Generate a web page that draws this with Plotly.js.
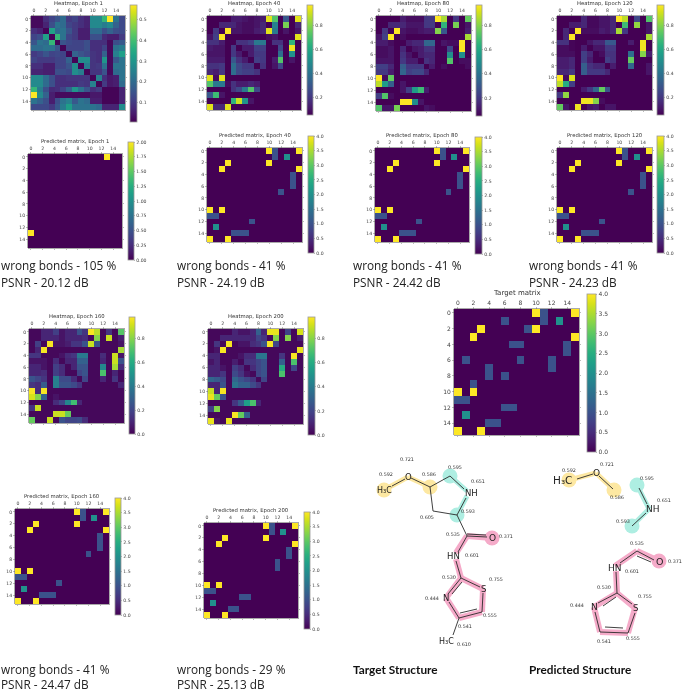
<!DOCTYPE html>
<html><head><meta charset="utf-8">
<script src="https://cdn.plot.ly/plotly-3.0.1.min.js"></script>
<style>html,body{margin:0;padding:0;background:#fff}#g{width:685px;height:692px;filter:blur(0.35px)}</style>
</head><body><div id="g"></div>
<script>
const heat1=[
[.02,.02,.08,.12,.15,.20,.10,.12,.08,.06,.27,.27,.38,.57,.22,.13],
[.02,.02,.06,.14,.22,.20,.12,.10,.08,.06,.27,.27,.24,.27,.18,.13],
[.08,.06,.01,.33,.20,.22,.15,.10,.05,.05,.20,.20,.14,.18,.14,.13],
[.12,.14,.33,.01,.38,.22,.12,.10,.05,.05,.14,.14,.07,.05,.05,.10],
[.15,.22,.20,.38,.01,.15,.13,.12,.12,.14,.08,.08,.08,.02,.14,.16],
[.20,.20,.22,.22,.15,.01,.12,.12,.12,.14,.08,.08,.12,.02,.22,.24],
[.10,.12,.15,.12,.13,.12,.01,.18,.15,.13,.09,.08,.18,.02,.25,.32],
[.12,.10,.10,.10,.12,.12,.18,.01,.28,.28,.09,.08,.30,.02,.16,.22],
[.08,.08,.05,.05,.12,.12,.15,.28,.01,.24,.09,.10,.22,.02,.22,.22],
[.06,.06,.05,.05,.14,.14,.13,.28,.24,.01,.09,.09,.15,.02,.20,.22],
[.27,.27,.20,.14,.08,.08,.09,.09,.09,.09,.01,.25,.08,.04,.05,.22],
[.27,.27,.20,.14,.08,.08,.08,.08,.10,.09,.25,.01,.10,.04,.05,.20],
[.38,.24,.14,.07,.08,.12,.18,.30,.22,.15,.08,.10,.01,.01,.01,.06],
[.57,.27,.18,.05,.02,.02,.02,.02,.02,.02,.04,.04,.01,.01,.01,.06],
[.22,.18,.14,.05,.14,.22,.25,.16,.22,.20,.05,.05,.01,.01,.01,.06],
[.13,.13,.13,.10,.16,.24,.32,.22,.22,.22,.22,.20,.06,.06,.06,.28]];
const heat40=[
[.05,.05,.05,.05,.12,.12,.10,.08,.10,.12,.93,.72,.05,.30,.05,.93],
[.05,.05,.15,.15,.15,.10,.08,.08,.10,.15,.05,.45,.05,.78,.05,.15],
[.05,.20,.05,.97,.10,.10,.08,.08,.12,.15,.93,.42,.05,.10,.05,.10],
[.10,.22,.97,.05,.05,.05,.05,.05,.05,.05,.08,.10,.05,.05,.05,.93],
[.18,.18,.12,.05,.05,.18,.18,.22,.42,.42,.05,.18,.18,.05,.65,.05],
[.12,.10,.10,.05,.20,.05,.12,.12,.22,.22,.05,.05,.25,.05,.95,.05],
[.10,.10,.10,.05,.20,.12,.05,.12,.20,.20,.05,.05,.38,.05,.52,.05],
[.12,.12,.12,.05,.30,.18,.12,.05,.22,.20,.05,.12,.72,.05,.10,.05],
[.18,.18,.20,.05,.38,.25,.20,.20,.05,.18,.05,.10,.25,.05,.05,.05],
[.15,.12,.20,.05,.38,.25,.22,.22,.18,.05,.05,.05,.05,.05,.05,.05],
[.93,.08,.93,.05,.05,.05,.05,.05,.05,.05,.05,.05,.05,.05,.05,.05],
[.72,.42,.42,.08,.18,.12,.12,.15,.12,.05,.05,.05,.05,.05,.05,.05],
[.05,.05,.05,.05,.18,.25,.42,.72,.25,.05,.05,.05,.05,.05,.05,.05],
[.30,.68,.10,.05,.05,.05,.05,.05,.05,.05,.05,.05,.05,.05,.05,.05],
[.05,.05,.05,.05,.65,.90,.52,.10,.05,.05,.05,.05,.05,.05,.05,.05],
[.93,.15,.15,.93,.05,.05,.05,.05,.05,.05,.05,.05,.05,.05,.05,.05]];
const heat80=[
[.05,.05,.05,.05,.12,.08,.08,.08,.20,.20,.97,.85,.05,.20,.05,.75],
[.05,.05,.15,.15,.15,.10,.10,.10,.20,.20,.05,.65,.05,.78,.05,.10],
[.05,.20,.05,.97,.10,.08,.08,.10,.12,.12,.80,.30,.05,.05,.05,.12],
[.10,.22,.97,.05,.08,.05,.05,.05,.05,.05,.05,.05,.05,.05,.05,.85],
[.12,.12,.08,.05,.05,.12,.15,.15,.35,.35,.05,.10,.08,.08,.97,.05],
[.08,.08,.10,.05,.15,.05,.10,.12,.18,.18,.05,.05,.25,.05,.97,.05],
[.08,.08,.10,.05,.18,.10,.05,.12,.15,.15,.05,.05,.50,.05,.50,.05],
[.10,.10,.10,.05,.20,.12,.12,.05,.18,.15,.05,.05,.72,.05,.08,.08],
[.22,.22,.15,.05,.32,.20,.20,.20,.05,.12,.05,.08,.05,.05,.05,.08],
[.20,.20,.12,.05,.35,.22,.25,.25,.15,.05,.05,.05,.05,.05,.05,.05],
[.97,.08,.75,.05,.05,.05,.05,.05,.05,.05,.05,.05,.05,.05,.05,.05],
[.88,.55,.32,.05,.10,.05,.05,.05,.05,.05,.05,.05,.05,.05,.05,.05],
[.05,.05,.05,.05,.10,.22,.55,.68,.12,.05,.05,.05,.05,.05,.05,.05],
[.22,.72,.08,.05,.05,.05,.05,.05,.05,.05,.05,.05,.05,.05,.05,.05],
[.05,.05,.05,.05,.97,.97,.50,.10,.05,.05,.05,.05,.05,.05,.05,.05],
[.72,.10,.10,.78,.05,.05,.05,.05,.10,.08,.05,.05,.05,.05,.05,.05]];
const heat120=[
[.05,.05,.05,.05,.15,.07,.07,.10,.10,.15,.97,.88,.05,.25,.05,.72],
[.05,.05,.12,.12,.15,.07,.07,.10,.10,.15,.05,.68,.05,.82,.05,.10],
[.05,.15,.05,.97,.08,.08,.08,.12,.10,.15,.85,.20,.05,.05,.05,.10],
[.05,.15,.97,.05,.05,.05,.05,.05,.05,.05,.05,.05,.05,.05,.05,.85],
[.18,.18,.06,.05,.05,.10,.15,.15,.30,.30,.05,.05,.12,.05,.95,.05],
[.08,.08,.06,.05,.12,.05,.10,.10,.20,.20,.05,.05,.05,.05,.95,.05],
[.08,.08,.08,.05,.22,.15,.05,.08,.18,.18,.05,.05,.38,.05,.80,.12],
[.12,.12,.15,.05,.22,.12,.05,.05,.22,.18,.05,.05,.75,.05,.05,.05],
[.12,.12,.15,.05,.32,.18,.15,.15,.05,.12,.05,.05,.35,.05,.05,.10],
[.15,.15,.20,.05,.32,.20,.20,.20,.15,.05,.05,.05,.05,.05,.05,.10],
[.97,.08,.92,.05,.05,.05,.05,.05,.05,.05,.05,.05,.05,.05,.05,.05],
[.88,.62,.22,.05,.05,.05,.05,.05,.05,.05,.05,.05,.05,.05,.05,.05],
[.05,.05,.05,.05,.12,.20,.35,.75,.28,.05,.05,.05,.05,.05,.05,.05],
[.20,.82,.05,.05,.05,.05,.05,.05,.05,.05,.05,.05,.05,.05,.05,.05],
[.05,.05,.05,.05,.95,.95,.80,.08,.05,.05,.05,.05,.05,.05,.05,.05],
[.75,.10,.05,.95,.05,.10,.12,.05,.10,.10,.05,.05,.05,.05,.05,.05]];
const heat160=[
[.02,.02,.10,.10,.18,.05,.10,.10,.25,.15,.97,.88,.02,.15,.02,.72],
[.02,.02,.10,.10,.10,.05,.10,.10,.10,.12,.02,.80,.02,.90,.02,.08],
[.02,.18,.02,.97,.05,.05,.08,.15,.15,.25,.90,.25,.02,.02,.02,.05],
[.02,.10,.97,.02,.02,.02,.02,.02,.02,.02,.02,.02,.02,.02,.02,.85],
[.15,.15,.02,.02,.02,.05,.12,.15,.40,.40,.02,.02,.12,.02,.90,.05],
[.05,.05,.05,.02,.12,.02,.10,.10,.30,.30,.02,.02,.10,.02,.90,.25],
[.10,.10,.05,.02,.18,.12,.02,.10,.25,.25,.02,.02,.45,.02,.85,.12],
[.10,.10,.12,.02,.18,.12,.02,.02,.20,.25,.02,.02,.70,.02,.10,.02],
[.25,.20,.15,.02,.42,.22,.22,.12,.02,.20,.02,.02,.10,.02,.15,.02],
[.15,.12,.28,.02,.42,.25,.25,.22,.15,.02,.02,.02,.02,.02,.02,.10],
[.97,.12,.97,.02,.02,.02,.02,.02,.02,.02,.02,.02,.02,.02,.02,.02],
[.92,.80,.30,.02,.05,.02,.02,.02,.02,.02,.02,.02,.02,.02,.02,.02],
[.02,.02,.02,.02,.12,.20,.45,.68,.10,.02,.02,.02,.02,.02,.02,.02],
[.15,.90,.02,.02,.02,.02,.02,.02,.02,.02,.02,.02,.02,.02,.02,.02],
[.02,.02,.02,.02,.90,.90,.75,.02,.02,.02,.02,.02,.02,.02,.02,.02],
[.75,.02,.02,.90,.02,.25,.20,.20,.22,.12,.02,.02,.02,.02,.02,.02]];
const heat200=[
[.02,.02,.02,.02,.10,.05,.05,.10,.30,.10,.95,.95,.02,.20,.02,.92],
[.02,.02,.10,.10,.10,.10,.10,.10,.20,.15,.02,.80,.02,.80,.02,.08],
[.02,.15,.02,.97,.02,.05,.05,.12,.15,.25,.97,.20,.02,.02,.02,.02],
[.02,.05,.97,.02,.02,.02,.02,.02,.02,.02,.02,.02,.02,.02,.02,.95],
[.10,.10,.02,.02,.02,.05,.12,.12,.38,.38,.02,.02,.15,.02,.97,.02],
[.05,.10,.02,.02,.08,.02,.15,.15,.20,.25,.02,.02,.30,.02,.70,.02],
[.10,.10,.05,.02,.18,.12,.02,.12,.20,.25,.02,.02,.60,.02,.20,.02],
[.10,.10,.15,.02,.22,.15,.05,.02,.20,.25,.02,.02,.70,.02,.02,.02],
[.32,.28,.22,.02,.32,.25,.20,.15,.02,.20,.02,.02,.02,.02,.02,.02],
[.10,.10,.25,.02,.38,.30,.30,.22,.15,.02,.02,.02,.02,.02,.02,.02],
[.90,.10,.97,.02,.02,.02,.02,.02,.02,.02,.02,.02,.02,.02,.02,.02],
[.95,.75,.25,.02,.02,.02,.02,.02,.02,.02,.02,.02,.02,.02,.02,.02],
[.02,.02,.02,.02,.15,.28,.55,.70,.10,.02,.02,.02,.02,.02,.02,.02],
[.18,.80,.02,.02,.02,.02,.02,.02,.02,.02,.02,.02,.02,.02,.02,.02],
[.02,.02,.02,.02,.97,.75,.30,.02,.02,.02,.02,.02,.02,.02,.02,.02],
[.95,.05,.02,.95,.02,.02,.02,.02,.02,.02,.02,.02,.02,.02,.02,.02]];
const pred1=[
[0,0,0,0,0,0,0,0,0,0,0,0,0,2,0,0],[0,0,0,0,0,0,0,0,0,0,0,0,0,0,0,0],
[0,0,0,0,0,0,0,0,0,0,0,0,0,0,0,0],[0,0,0,0,0,0,0,0,0,0,0,0,0,0,0,0],
[0,0,0,0,0,0,0,0,0,0,0,0,0,0,0,0],[0,0,0,0,0,0,0,0,0,0,0,0,0,0,0,0],
[0,0,0,0,0,0,0,0,0,0,0,0,0,0,0,0],[0,0,0,0,0,0,0,0,0,0,0,0,0,0,0,0],
[0,0,0,0,0,0,0,0,0,0,0,0,0,0,0,0],[0,0,0,0,0,0,0,0,0,0,0,0,0,0,0,0],
[0,0,0,0,0,0,0,0,0,0,0,0,0,0,0,0],[0,0,0,0,0,0,0,0,0,0,0,0,0,0,0,0],
[0,0,0,0,0,0,0,0,0,0,0,0,0,0,0,0],[2,0,0,0,0,0,0,0,0,0,0,0,0,0,0,0],
[0,0,0,0,0,0,0,0,0,0,0,0,0,0,0,0],[0,0,0,0,0,0,0,0,0,0,0,0,0,0,0,0]];
const pred40=[
[0,0,0,0,0,0,0,0,0,0,4,1,0,0,0,4],
[0,0,0,0,0,0,0,0,0,0,0,1,0,2,0,0],
[0,0,0,4,0,0,0,0,0,0,4,0,0,0,0,0],
[0,0,4,0,0,0,0,0,0,0,0,0,0,0,0,4],
[0,0,0,0,0,0,0,0,0,0,0,0,0,0,1,0],
[0,0,0,0,0,0,0,0,0,0,0,0,0,0,1,0],
[0,0,0,0,0,0,0,0,0,0,0,0,0,0,1,0],
[0,0,0,0,0,0,0,0,0,0,0,0,1,0,0,0],
[0,0,0,0,0,0,0,0,0,0,0,0,0,0,0,0],
[0,0,0,0,0,0,0,0,0,0,0,0,0,0,0,0],
[4,0,4,0,0,0,0,0,0,0,0,0,0,0,0,0],
[1,1,0,0,0,0,0,0,0,0,0,0,0,0,0,0],
[0,0,0,0,0,0,0,1,0,0,0,0,0,0,0,0],
[0,2,0,0,0,0,0,0,0,0,0,0,0,0,0,0],
[0,0,0,0,1,1,1,0,0,0,0,0,0,0,0,0],
[4,0,0,4,0,0,0,0,0,0,0,0,0,0,0,0]];
const pred200=[
[0,0,0,0,0,0,0,0,0,0,4,1,0,0,0,4],
[0,0,0,0,0,0,0,0,0,0,0,1,0,2,0,0],
[0,0,0,4,0,0,0,0,0,0,4,0,0,0,0,0],
[0,0,4,0,0,0,0,0,0,0,0,0,0,0,0,4],
[0,0,0,0,0,0,0,0,0,0,0,0,0,0,1,0],
[0,0,0,0,0,0,0,0,0,0,0,0,0,0,1,0],
[0,0,0,0,0,0,0,0,0,0,0,0,1,0,0,0],
[0,0,0,0,0,0,0,0,0,0,0,0,1,0,0,0],
[0,0,0,0,0,0,0,0,0,0,0,0,0,0,0,0],
[0,0,0,0,0,0,0,0,0,0,0,0,0,0,0,0],
[4,0,4,0,0,0,0,0,0,0,0,0,0,0,0,0],
[1,1,0,0,0,0,0,0,0,0,0,0,0,0,0,0],
[0,0,0,0,0,0,1,1,0,0,0,0,0,0,0,0],
[0,2,0,0,0,0,0,0,0,0,0,0,0,0,0,0],
[0,0,0,0,1,1,0,0,0,0,0,0,0,0,0,0],
[4,0,0,4,0,0,0,0,0,0,0,0,0,0,0,0]];
const targetMatrix=[
[0,0,0,0,0,0,0,0,0,0,4,1,0,0,0,4],
[0,0,0,0,0,0,1,0,0,0,0,1,0,2,0,0],
[0,0,0,4,0,0,0,0,0,1,4,0,0,0,0,0],
[0,0,4,0,0,0,0,0,0,0,0,0,0,0,0,4],
[0,0,0,0,0,0,0,1,1,0,0,0,0,0,1,0],
[0,0,0,0,0,0,0,0,0,0,0,0,0,0,1,0],
[0,1,0,0,0,0,0,0,1,0,0,0,1,0,0,0],
[0,0,0,0,1,0,0,0,0,0,0,0,1,0,0,0],
[0,0,0,0,1,0,1,0,0,0,0,0,0,0,0,0],
[0,0,1,0,0,0,0,0,0,0,0,0,0,0,0,0],
[4,0,4,0,0,0,0,0,0,0,0,0,0,0,0,0],
[1,1,0,0,0,0,0,0,0,0,0,0,0,0,0,0],
[0,0,0,0,0,0,1,1,0,0,0,0,0,0,0,0],
[0,2,0,0,0,0,0,0,0,0,0,0,0,0,0,0],
[0,0,0,0,1,1,0,0,0,0,0,0,0,0,0,0],
[4,0,0,4,0,0,0,0,0,0,0,0,0,0,0,0]];

const axisTicks=[0,2,4,6,8,10,12,14];
const tick01=[.1,.2,.3,.4,.5];
const tick02=[.2,.4,.6,.8];
const tick00=[0,.2,.4,.6,.8];
const tick2=[0,.25,.5,.75,1,1.25,1.5,1.75,2];
const tick4=[0,.5,1,1.5,2,2.5,3,3.5,4];

// x0,x1,y0,y1 plot box in px; cx,cw,cy0,cy1 colour bar box in px
const panels=[
{z:heat1,t:'Heatmap, Epoch 1',box:[31,125,16,110],cb:[130,7,5,122],zr:[.005,.57],tv:tick01,fmt:'.1f'},
{z:heat40,t:'Heatmap, Epoch 40',box:[207,301,16,110],cb:[307,6,5,115],zr:[.05,.97],tv:tick02,fmt:'.1f'},
{z:heat80,t:'Heatmap, Epoch 80',box:[376,471,16,111],cb:[476,6,5,116],zr:[.05,.97],tv:tick02,fmt:'.1f'},
{z:heat120,t:'Heatmap, Epoch 120',box:[557,652,16,110],cb:[657,7,5,115],zr:[.05,.97],tv:tick02,fmt:'.1f'},
{z:pred1,t:'Predicted matrix, Epoch 1',box:[28,122,154,248],cb:[128,6,142,260],zr:[0,2],tv:tick2,fmt:'.2f'},
{z:pred40,t:'Predicted matrix, Epoch 40',box:[207,302,148,242],cb:[308,6,136,253],zr:[0,4],tv:tick4,fmt:'.1f'},
{z:pred40,t:'Predicted matrix, Epoch 80',box:[375,469,148,242],cb:[475,7,137,254],zr:[0,4],tv:tick4,fmt:'.1f'},
{z:pred40,t:'Predicted matrix, Epoch 120',box:[557,652,148,242],cb:[657,7,136,253],zr:[0,4],tv:tick4,fmt:'.1f'},
{z:heat160,t:'Heatmap, Epoch 160',box:[29,124,329,423],cb:[129,6,317,434],zr:[0,.98],tv:tick00,fmt:'.1f'},
{z:heat200,t:'Heatmap, Epoch 200',box:[208,303,329,424],cb:[308,7,317,435],zr:[0,.98],tv:tick00,fmt:'.1f'},
{z:pred40,t:'Predicted matrix, Epoch 160',box:[15,109,509,604],cb:[115,6,498,615],zr:[0,4],tv:tick4,fmt:'.1f'},
{z:pred200,t:'Predicted matrix, Epoch 200',box:[204,298,523,618],cb:[304,6,512,629],zr:[0,4],tv:tick4,fmt:'.1f'},
{z:targetMatrix,t:'Target matrix',box:[454,579,309,435],cb:[587,9,294,452],zr:[0,4],tv:tick4,fmt:'.1f',big:true}
];

const W=685,H=692;
const traces=[];
const annotations=[];
const layout={width:W,height:H,margin:{l:0,r:0,t:0,b:0},paper_bgcolor:'#fff',plot_bgcolor:'rgba(0,0,0,0)',
  showlegend:false,font:{family:'DejaVu Sans',color:'#333'},annotations};
panels.forEach((p,i)=>{
  const n=i+1, big=!!p.big, [x0,x1,y0,y1]=p.box, [cx,cw,c0,c1]=p.cb;
  const fs=big?6:4.6;
  layout['xaxis'+n]={domain:[x0/W,x1/W],range:[-.5,15.5],anchor:'y'+n,side:'top',tickmode:'array',tickvals:axisTicks,
    ticks:'outside',ticklen:1.5,tickwidth:.4,tickcolor:'#555',tickfont:{size:fs,color:'#444'},showgrid:false,zeroline:false,
    showline:true,linecolor:'#555',linewidth:.5,mirror:'ticks'};
  layout['yaxis'+n]={domain:[1-y1/H,1-y0/H],range:[15.5,-.5],anchor:'x'+n,tickmode:'array',tickvals:axisTicks,
    ticks:'outside',ticklen:1.5,tickwidth:.4,tickcolor:'#555',tickfont:{size:fs,color:'#444'},showgrid:false,zeroline:false,
    showline:true,linecolor:'#555',linewidth:.5,mirror:'ticks'};
  traces.push({type:'heatmap',z:p.z,xaxis:'x'+n,yaxis:'y'+n,colorscale:'Viridis',zmin:p.zr[0],zmax:p.zr[1],hoverinfo:'skip',
    colorbar:{x:cx/W,xanchor:'left',xpad:0,y:1-(c0+c1)/2/H,yanchor:'middle',ypad:0,lenmode:'pixels',len:c1-c0,
      thicknessmode:'pixels',thickness:cw,outlinewidth:.8,outlinecolor:'#999',ticks:'outside',ticklen:1.5,tickwidth:.4,tickcolor:'#555',
      tickmode:'array',tickvals:p.tv,tickformat:p.fmt,tickfont:{size:fs,color:'#444'},borderwidth:0}});
  annotations.push({xref:'paper',yref:'paper',x:(x0+x1)/2/W,y:1-(y0-(big?16:12.5))/H,text:p.t,showarrow:false,xanchor:'center',yanchor:'middle',
    font:{size:big?7:5.3,family:'DejaVu Sans',color:'#333'}});
});

// molecule sketch: drawn on a full-page pixel axis
const ov=panels.length+1;
layout['xaxis'+ov]={domain:[0,1],range:[0,W],visible:false,fixedrange:true,anchor:'y'+ov};
layout['yaxis'+ov]={domain:[0,1],range:[H,0],visible:false,fixedrange:true,anchor:'x'+ov};

const YEL='#fde8a2',TEAL='#aeeee2',PINK='#f5abc9',INK='#2a2a2a';
// bond segments [x0,y0,x1,y1]
const targetYellowBonds=[[384,490,408,477],[408,477,430,487]];
const targetTealBonds=[[450,476,467,491],[467,496,457,515]];
const targetPinkBonds=[[467,536,492,538],[467,536,456,553],[456,559,461,578],[461,578,483,589],[483,589,482,612],[482,612,459,618],[459,618,446,598],[446,598,461,578]];
const targetBlackBonds=[[392,486,405,479],[411,478,430,487],[430,487,450,476],[430,487,433,511],[433,511,457,515],[450,476,464,489],[466,498,457,515],[457,515,467,536],[467,536,487,537],[467,534,486,535],[467,536,458,552],[456,561,461,578],[461,578,480,587],[483,593,482,612],[482,612,459,618],[477,609,460,613],[459,618,449,602],[448,594,461,578],[452,594,462,582],[459,618,453,635]];
const predYellowBonds=[[569,480,596,473],[596,473,614,490]];
const predTealBonds=[[637,485,649,509],[649,509,632,526]];
const predPinkBonds=[[637,551,659,561],[637,551,615,566],[616,571,617,593],[617,593,635,608],[635,608,628,633],[628,633,600,632],[600,632,594,607],[594,607,617,593]];
const predBlackBonds=[[577,479,593,474],[599,476,613,489],[639,488,647,504],[646,513,632,526],[637,551,654,560],[637,556,651,562],[637,551,620,563],[616,572,617,593],[617,593,632,604],[635,613,628,633],[628,633,600,632],[605,627,623,628],[600,632,595,612],[598,603,617,593],[603,606,616,597]];
const atomCircles={x:[384,430,450,457,492,569,614,637,632,659],y:[490,487,476,515,538,480,490,485,526,561],
  c:[YEL,YEL,TEAL,TEAL,PINK,YEL,YEL,TEAL,TEAL,PINK]};
const atomLabels=[['H\u2083C',384,490,8],['O',408,477,8.5],['NH',471,493,8.5],['O',492,538,9],['HN',453,556,8.5],['S',483,589,8.5],['N',446,598,8.5],['H\u2083C',446,641,8],
 ['H\u2083C',562,480,10.5],['O',596,473,9],['NH',653,509,9],['O',659,561,9.5],['HN',615,568,9],['S',635,608,8.5],['N',594,607,9]];
const scoreText=['0.721','0.592','0.586','0.595','0.651','0.593','0.605','0.535','0.371','0.601','0.530','0.755','0.444','0.555','0.541','0.610',
 '0.592','0.721','0.586','0.595','0.651','0.593','0.535','0.371','0.601','0.530','0.755','0.444','0.541','0.555'];
const scoreX=[407,386,429,455,478,468,427,453,506,472,449,496,432,490,465,464,569,607,617,647,664,623,637,675,632,604,645,577,604,633];
const scoreY=[460,475,475,468,482,512,518,535,537,556,578,580,599,616,627,645,471,465,498,479,501,522,544,562,572,588,597,606,642,639];
const captionText=['wrong bonds - 105 %','PSNR - 20.12 dB','wrong bonds - 41 %','PSNR - 24.19 dB','wrong bonds - 41 %','PSNR - 24.42 dB','wrong bonds - 41 %','PSNR - 24.23 dB','wrong bonds - 41 %','PSNR - 24.47 dB','wrong bonds - 29 %','PSNR - 25.13 dB'];
const captionX=[1,1,177,177,353,353,529,529,1,1,177,177];
const captionY=[265,282,265,282,265,282,265,282,669,683.5,669,683.5];
const headingText=['Target Structure','Predicted Structure'];
const headingX=[353,529], headingY=[669,669];

function bonds(segs,color,width){
  const x=[],y=[];
  segs.forEach(s=>{x.push(s[0],s[2],null);y.push(s[1],s[3],null);});
  traces.push({type:'scatter',mode:'lines',x,y,xaxis:'x'+ov,yaxis:'y'+ov,line:{color,width},hoverinfo:'skip',connectgaps:false});
}
traces.push({type:'scatter',mode:'markers',x:atomCircles.x,y:atomCircles.y,xaxis:'x'+ov,yaxis:'y'+ov,
  marker:{size:15,color:atomCircles.c,line:{width:0}},hoverinfo:'skip'});
bonds(targetYellowBonds,YEL,5);bonds(predYellowBonds,YEL,5);
bonds(targetTealBonds,TEAL,5);bonds(predTealBonds,TEAL,5);
bonds(targetPinkBonds,PINK,6);bonds(predPinkBonds,PINK,6);
bonds(targetBlackBonds,INK,.9);bonds(predBlackBonds,INK,.9);

atomLabels.forEach(a=>annotations.push({xref:'x'+ov,yref:'y'+ov,x:a[1],y:a[2],text:a[0],showarrow:false,xanchor:'center',yanchor:'middle',
  font:{size:a[3],family:'DejaVu Sans',color:'#222'}}));
traces.push({type:'scatter',mode:'text',x:scoreX,y:scoreY,text:scoreText,xaxis:'x'+ov,yaxis:'y'+ov,textposition:'middle center',
  textfont:{size:4.9,family:'DejaVu Sans',color:'#333'},hoverinfo:'skip',cliponaxis:false});
captionText.forEach((t,i)=>annotations.push({xref:'x'+ov,yref:'y'+ov,x:captionX[i],y:captionY[i],text:t,showarrow:false,xanchor:'left',yanchor:'middle',borderpad:0,borderwidth:0,
  font:{size:11.8,family:'Open Sans',color:'#222'}}));
headingText.forEach((t,i)=>annotations.push({xref:'x'+ov,yref:'y'+ov,x:headingX[i],y:headingY[i],text:'<b>'+t+'</b>',showarrow:false,xanchor:'left',yanchor:'middle',borderpad:0,borderwidth:0,
  font:{size:11.8,family:'Lato',color:'#111'}}));

Plotly.newPlot('g',traces,layout,{displayModeBar:false,staticPlot:true});
</script></body></html>
